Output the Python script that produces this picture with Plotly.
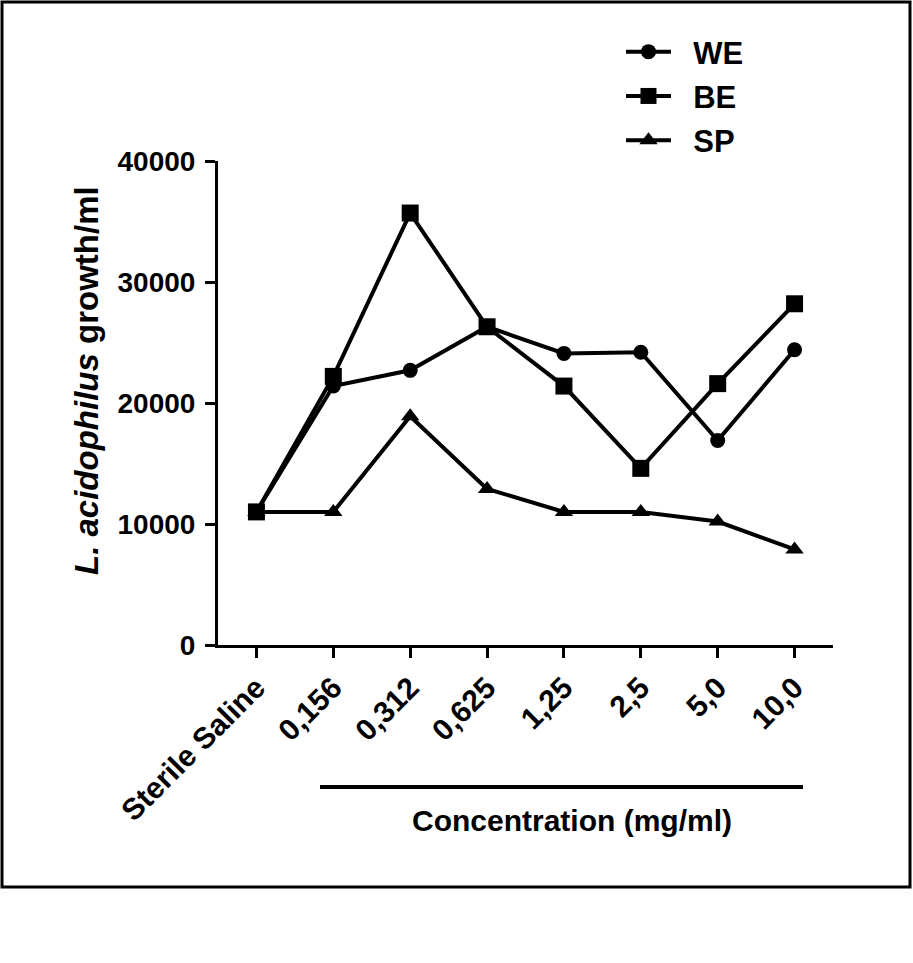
import plotly.graph_objects as go

categories = ["Sterile Saline", "0,156", "0,312", "0,625", "1,25", "2,5", "5,0", "10,0"]
we_values = [11000, 21400, 22700, 26300, 24100, 24200, 16900, 24400]
be_values = [11000, 22200, 35700, 26300, 21400, 14600, 21600, 28200]
sp_values = [11000, 11000, 18900, 12900, 11000, 11000, 10200, 7900]
y_ticks = [0, 10000, 20000, 30000, 40000]

FONT = "Liberation Sans, Arial, sans-serif"
W, H = 913, 963
L, T = 218, 161
R = W - 833
B = H - 645
PW, PH = W - L - R, H - T - B


def px(x):
    return (x - L) / PW


def py(y):
    return (H - B - y) / PH


idx = list(range(len(categories)))
NB = "\u00a0\u00a0"

fig = go.Figure()
series = [
    ("WE", we_values, "circle", 15),
    ("BE", be_values, "square", 17),
    ("SP", sp_values, "triangle-up", 16),
]
for name, vals, sym, size in series:
    fig.add_trace(go.Scatter(
        x=idx, y=vals, name=NB + name, mode="lines+markers",
        legendgroup=name,
        line=dict(color="black", width=4),
        marker=dict(symbol=sym, size=size, color="black"),
        cliponaxis=False,
    ))

fig.update_layout(
    width=W, height=H,
    margin=dict(l=L, r=R, t=T, b=B, pad=0),
    plot_bgcolor="white", paper_bgcolor="white",
    font=dict(family=FONT, color="black", size=24),
    showlegend=True,
    legend=dict(
        x=px(621), y=py(25), xanchor="left", yanchor="top",
        font=dict(family=FONT, size=31, color="black", weight="bold"),
        tracegroupgap=1, bgcolor="rgba(0,0,0,0)", itemwidth=45,
    ),
    xaxis=dict(
        range=[-0.5, 7.5], tickmode="array", tickvals=idx,
        ticktext=[f"<b>{c}</b>" for c in categories],
        tickangle=-45, ticks="outside", ticklen=10, tickwidth=3,
        tickcolor="black", showline=True, linewidth=3, linecolor="black",
        showgrid=False, zeroline=False,
        tickfont=dict(family=FONT, size=30, color="black"),
    ),
    yaxis=dict(
        range=[0, 40000], tickmode="array", tickvals=y_ticks,
        ticktext=[f"<b>{v}</b>" for v in y_ticks],
        ticks="outside", ticklen=10, tickwidth=3, tickcolor="black",
        showline=True, linewidth=3, linecolor="black",
        showgrid=False, zeroline=False, ticklabelstandoff=4,
        tickfont=dict(family=FONT, size=28, color="black"),
    ),
)

# outer border
fig.add_shape(type="rect", xref="paper", yref="paper",
              x0=px(2), x1=px(910), y0=py(887), y1=py(2),
              line=dict(color="black", width=3), fillcolor="rgba(0,0,0,0)")
# bracket line under concentrations
fig.add_shape(type="line", xref="paper", yref="paper",
              x0=px(320), x1=px(803), y0=py(787), y1=py(787),
              line=dict(color="black", width=4))

fig.add_annotation(
    x=px(572), y=py(820), xref="paper", yref="paper",
    text="<b>Concentration (mg/ml)</b>", showarrow=False,
    xanchor="center", yanchor="middle",
    font=dict(family=FONT, size=30, color="black"),
)
fig.add_annotation(
    x=px(86), y=py(381), xref="paper", yref="paper",
    text="<b><i>L. acidophilus</i> growth/ml</b>", showarrow=False,
    textangle=-90, xanchor="center", yanchor="middle",
    font=dict(family=FONT, size=33, color="black"),
)

fig.write_html(
    "out.html",
    config={"displayModeBar": False},
    post_script="document.body.style.margin='0';document.body.style.overflow='hidden';",
)
